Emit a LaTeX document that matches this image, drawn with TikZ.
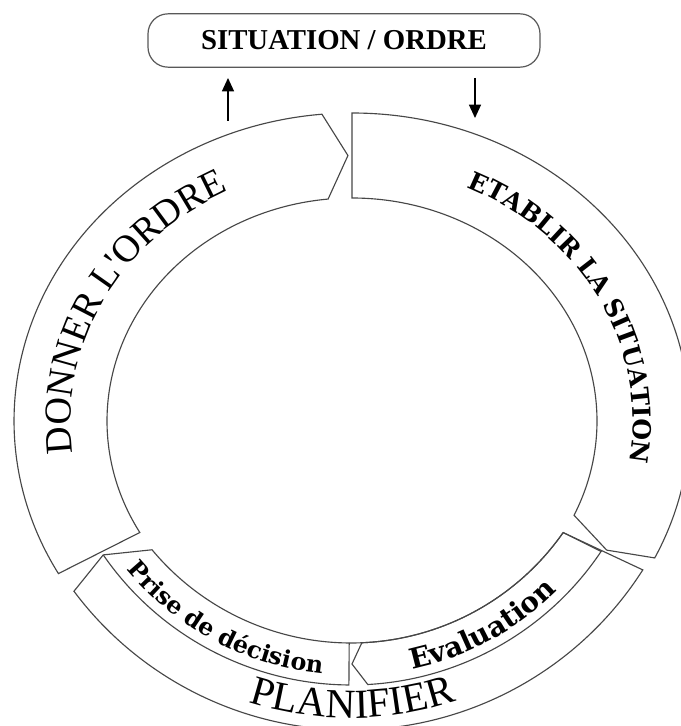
\documentclass[tikz,border=0pt]{standalone}
\usepackage{fontspec}
\setmainfont{Liberation Serif}
\newfontfamily\slabfont{DejaVu Serif}
\newfontfamily\plainserif{Liberation Serif}
\usetikzlibrary{arrows.meta,decorations.text}

\begin{document}
\begin{tikzpicture}[x=0.75pt,y=0.75pt,
  segment/.style={draw=black!72, line width=0.85pt, line join=miter},
  flow/.style={draw=black, line width=1pt, -{Triangle[width=9pt,length=10pt]}},
  titlebox/.style={draw=black!65, line width=0.9pt, rounded corners=15pt,
    minimum width=294pt, minimum height=40pt, inner sep=0pt,
    font=\bfseries\fontsize{21.6pt}{24pt}\selectfont},
  curved/.style 2 args={decoration={text along path, text={|#1|#2}, text align=center}, decorate}
]
\useasboundingbox[fill=white] (0,0) rectangle (681,726);

% cycle header
\node[titlebox] (sitbox) at (344,685.5) {SITUATION / ORDRE};

% connectors between the header and the ring
\coordinate (upTail) at (228,605);
\coordinate (upTip) at (228,648);
\coordinate (downTail) at (475,648);
\coordinate (downTip) at (475,608);
\draw[flow] (upTail) -- (upTip);
\draw[flow] (downTail) -- (downTip);

% ring segments: ETABLIR LA SITUATION and DONNER L'ORDRE
\begin{scope}[shift={(352,305)}]
  \draw[segment] (90:245 and 223) -- (90:338 and 308)
    arc[start angle=90, end angle=-26.4, x radius=338, y radius=308]
    -- (-29.1:291.5 and 265.5) -- (-25:245 and 223)
    arc[start angle=-25, end angle=90, x radius=245, y radius=223] -- cycle;
  \draw[segment] (210:245 and 223) -- (209.7:338 and 308)
    arc[start angle=209.7, end angle=95.1, x radius=338, y radius=308]
    -- (90.8:291.5 and 265.5) -- (95.6:245 and 223)
    arc[start angle=95.6, end angle=210, x radius=245, y radius=223] -- cycle;

  \path[curved={\slabfont\bfseries\fontsize{18.7pt}{21pt}\selectfont}{ETABLIR LA SITUATION}]
    (86:281 and 256) arc[start angle=86, end angle=-31, x radius=281, y radius=256];
  \path[curved={\plainserif\fontsize{28.6pt}{31pt}\selectfont}{DONNER L'ORDRE}]
    (211.5:281 and 256) arc[start angle=211.5, end angle=93.5, x radius=281, y radius=256];
\end{scope}

% PLANIFIER band with its two sub-steps
\begin{scope}[shift={(351,342)}]
  \draw[segment] (-35:259) -- (-32.5:346)
    arc[start angle=-32.5, end angle=-143.2, radius=346]
    -- (-145.4:301) -- (-140.2:259)
    arc[start angle=-140.2, end angle=-35, radius=259] -- cycle;
  % Prise de decision
  \draw[segment] (-145.4:301) arc[start angle=-145.4, end angle=-90.4, radius=301]
    -- (-90.4:259);
  % Evaluation
  \draw[segment] (-35:259) -- (-33.8:301)
    arc[start angle=-33.8, end angle=-86.8, radius=301]
    -- (-89.8:280) -- (-87.6:259)
    arc[start angle=-87.6, end angle=-35, radius=259];

  \path[curved={\slabfont\bfseries\fontsize{17.8pt}{20pt}\selectfont}{Prise de décision}]
    (-148:291) arc[start angle=-148, end angle=-88, radius=291];
  \path[curved={\slabfont\bfseries\fontsize{21pt}{23pt}\selectfont}{Evaluation}]
    (-85:292) arc[start angle=-85, end angle=-38, radius=292];
  \path[curved={\plainserif\fontsize{31pt}{33pt}\selectfont}{PLANIFIER}]
    (-120:334) arc[start angle=-120, end angle=-59.4, radius=334];
\end{scope}
\end{tikzpicture}
\end{document}
